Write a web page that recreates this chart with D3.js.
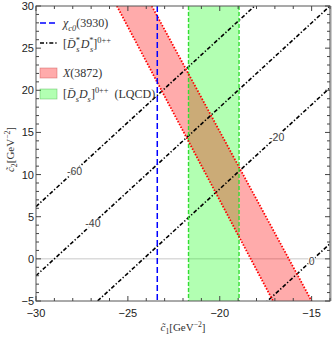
<!DOCTYPE html>
<html><head><meta charset="utf-8">
<script src="https://cdn.jsdelivr.net/npm/d3@7"></script>
<style>body{margin:0;background:#fff} svg{display:block}</style>
</head><body>
<script>
// ---- data ----
const xDomain = [-30, -14];
const yDomain = [-5, 30];
const xTicks = [-30, -25, -20, -15];
const yTicks = [-5, 0, 5, 10, 15, 20, 25, 30];
const chiC0Line = -23.4;                 // chi_c0(3930) vertical line, c1
const lqcdBand = [-21.7, -18.95];        // [DsDs] LQCD band, c1 range
const x3872TopC1 = [-25.6, -23.7];       // X(3872) band edges at c2 = 30
const x3872BottomC1 = [-17.1, -15.0];    // X(3872) band edges at c2 = -5
const contourLevels = [-60, -40, -20, 0];
const contourSlope = 2;
const contourIntercepts = [66.2, 58.0, 48.3, 29.8];
const contourLabelC1 = [-27.9, -26.9, -16.9, -15.0];

// ---- layout ----
const W = 332, H = 338;
const L = 36, R = 330, T = 6, B = 301;
const svg = d3.select("body").append("svg").attr("width", W).attr("height", H);
const x = d3.scaleLinear().domain(xDomain).range([L, R]);
const y = d3.scaleLinear().domain(yDomain).range([B, T]);

svg.append("defs").append("clipPath").attr("id", "clip")
  .append("rect").attr("x", L).attr("y", T).attr("width", R - L).attr("height", B - T);
const plot = svg.append("g").attr("clip-path", "url(#clip)");

// zero line
plot.append("line").attr("x1", x(xDomain[0])).attr("x2", x(xDomain[1]))
  .attr("y1", y(0)).attr("y2", y(0)).attr("stroke", "#c8c8c8").attr("stroke-width", 1);

// green band
plot.append("rect").attr("x", x(lqcdBand[0])).attr("width", x(lqcdBand[1]) - x(lqcdBand[0]))
  .attr("y", T).attr("height", B - T).attr("fill", "rgb(0,255,0)").attr("fill-opacity", 0.3);

// red band
const redPoly = [[x3872TopC1[0], yDomain[1]], [x3872TopC1[1], yDomain[1]],
                 [x3872BottomC1[1], yDomain[0]], [x3872BottomC1[0], yDomain[0]]];
plot.append("path").attr("d", d3.line().x(d => x(d[0])).y(d => y(d[1]))(redPoly) + "Z")
  .attr("fill", "rgb(255,0,0)").attr("fill-opacity", 0.33);

// contour lines
contourLevels.forEach((lev, i) => {
  const b = contourIntercepts[i];
  plot.append("line")
    .attr("x1", x(xDomain[0])).attr("y1", y(contourSlope * xDomain[0] + b))
    .attr("x2", x(xDomain[1])).attr("y2", y(contourSlope * xDomain[1] + b))
    .attr("stroke", "#000").attr("stroke-width", 1.6)
    .attr("stroke-dasharray", "4,2,1.3,2");
});

// band boundaries
lqcdBand.forEach(c => {
  plot.append("line").attr("x1", x(c)).attr("x2", x(c)).attr("y1", T).attr("y2", B)
    .attr("stroke", "#33dd33").attr("stroke-width", 1.4).attr("stroke-dasharray", "4,2");
});
[0, 1].forEach(k => {
  plot.append("line").attr("x1", x(x3872TopC1[k])).attr("y1", y(yDomain[1]))
    .attr("x2", x(x3872BottomC1[k])).attr("y2", y(yDomain[0]))
    .attr("stroke", "#ff0000").attr("stroke-width", 1.8).attr("stroke-dasharray", "1.5,1.6");
});

// chi_c0 line
plot.append("line").attr("x1", x(chiC0Line)).attr("x2", x(chiC0Line)).attr("y1", T).attr("y2", B)
  .attr("stroke", "#0000ff").attr("stroke-width", 1.5).attr("stroke-dasharray", "6,3");

// contour labels
contourLevels.forEach((lev, i) => {
  const cx = contourLabelC1[i];
  const cy = contourSlope * cx + contourIntercepts[i];
  const g = plot.append("g");
  const t = g.append("text").attr("x", x(cx)).attr("y", y(cy) + 4)
    .attr("text-anchor", "middle").attr("font-family", "Liberation Sans, Arial, sans-serif")
    .attr("font-size", 10.5).attr("fill", "#444").text(lev === 0 ? "0" : "-" + Math.abs(lev));
  const bb = t.node().getBBox();
  g.insert("rect", "text").attr("x", bb.x - 0.5).attr("y", bb.y + 1).attr("width", bb.width + 1)
    .attr("height", bb.height - 2).attr("fill", "#fff").attr("fill-opacity", 0.85);
});

// frame
const frame = svg.append("g");
frame.append("rect").attr("x", L).attr("y", T).attr("width", R - L).attr("height", B - T)
  .attr("fill", "none").attr("stroke", "#555").attr("stroke-width", 1);
frame.append("line").attr("x1", R + 0.5).attr("x2", R + 0.5).attr("y1", T).attr("y2", B)
  .attr("stroke", "#999").attr("stroke-width", 2);

// ticks
const minorX = d3.range(xDomain[0], xDomain[1] + 0.001, 1);
const minorY = d3.range(yDomain[0], yDomain[1] + 0.001, 1);
minorX.forEach(v => {
  const len = xTicks.includes(v) ? 5 : 3;
  frame.append("line").attr("x1", x(v)).attr("x2", x(v)).attr("y1", B).attr("y2", B - len).attr("stroke", "#444");
  frame.append("line").attr("x1", x(v)).attr("x2", x(v)).attr("y1", T).attr("y2", T + len).attr("stroke", "#444");
});
minorY.forEach(v => {
  const len = yTicks.includes(v) ? 5 : 3;
  frame.append("line").attr("x1", L).attr("x2", L + len).attr("y1", y(v)).attr("y2", y(v)).attr("stroke", "#444");
  frame.append("line").attr("x1", R).attr("x2", R - len).attr("y1", y(v)).attr("y2", y(v)).attr("stroke", "#444");
});
const tickFont = "Liberation Sans, Arial, sans-serif";
xTicks.forEach(v => {
  svg.append("text").attr("x", x(v)).attr("y", 317).attr("text-anchor", "middle")
    .attr("font-family", tickFont).attr("font-size", 11).attr("fill", "#222")
    .text("\u2212" + Math.abs(v));
});
yTicks.forEach(v => {
  svg.append("text").attr("x", 34).attr("y", y(v) + 4).attr("text-anchor", "end")
    .attr("font-family", tickFont).attr("font-size", 11).attr("fill", "#222")
    .text(v < 0 ? "\u2212" + Math.abs(v) : String(v));
});

// rich text helper
const serif = "Liberation Serif, Times New Roman, serif";
function rich(sel, parts, fs) {
  let cur = 0;
  parts.forEach(p => {
    const shift = p.sub ? fs * 0.3 : p.sup ? -fs * 0.4 : 0;
    const ts = sel.append("tspan").text(p.t).attr("dy", shift - cur)
      .attr("font-size", (p.sub || p.sup) ? fs * 0.7 : fs)
      .attr("font-style", p.i ? "italic" : "normal");
    if (p.dx) ts.attr("dx", p.dx);
    cur = shift;
  });
  if (cur !== 0) sel.append("tspan").text("").attr("dy", -cur);
}

// axis titles
const xt = svg.append("text").attr("x", (L + R) / 2).attr("y", 331).attr("text-anchor", "middle")
  .attr("font-family", serif).attr("font-size", 11).attr("fill", "#333");
rich(xt, [{t: "c\u0303", i: true}, {t: "1", sub: true}, {t: "[GeV"}, {t: "\u22122", sup: true}, {t: "]"}], 11);
const yt = svg.append("text").attr("transform", `translate(14,${(T + B) / 2 - 4}) rotate(-90)`)
  .attr("text-anchor", "middle").attr("font-family", serif).attr("font-size", 11).attr("fill", "#333");
rich(yt, [{t: "c\u0303", i: true}, {t: "2", sub: true}, {t: "[GeV"}, {t: "\u22122", sup: true}, {t: "]"}], 11);

// legend
const lg = svg.append("g");
const lx0 = 40, lx1 = 57, tx = 63, fs = 12;
lg.append("line").attr("x1", lx0).attr("x2", lx1).attr("y1", 23).attr("y2", 23)
  .attr("stroke", "#0000ff").attr("stroke-width", 1.5).attr("stroke-dasharray", "6,3");
lg.append("line").attr("x1", lx0).attr("x2", lx1).attr("y1", 43).attr("y2", 43)
  .attr("stroke", "#000").attr("stroke-width", 1.6).attr("stroke-dasharray", "4,2,1.3,2");
lg.append("rect").attr("x", lx0).attr("y", 68).attr("width", lx1 - lx0).attr("height", 10)
  .attr("fill", "rgb(255,0,0)").attr("fill-opacity", 0.33).attr("stroke", "rgba(200,80,80,0.6)").attr("stroke-width", 0.7);
lg.append("rect").attr("x", lx0).attr("y", 89).attr("width", lx1 - lx0).attr("height", 10)
  .attr("fill", "rgb(0,255,0)").attr("fill-opacity", 0.3).attr("stroke", "rgba(80,180,80,0.6)").attr("stroke-width", 0.7);

const t1 = lg.append("text").attr("x", tx).attr("y", 27).attr("font-family", serif).attr("fill", "#333");
rich(t1, [{t: "\u03c7", i: true}, {t: "c0", i: true, sub: true}, {t: "(3930)"}], fs);
const t2 = lg.append("text").attr("x", tx).attr("y", 48).attr("font-family", serif).attr("fill", "#333");
rich(t2, [{t: "["}, {t: "D\u0304", i: true}, {t: "*", sup: true}, {t: "s", i: true, sub: true, dx: -3.5},
          {t: "D", i: true, dx: 1}, {t: "*", sup: true}, {t: "s", i: true, sub: true, dx: -3.5}, {t: "]"}, {t: "0++", sup: true}], fs);
const t3 = lg.append("text").attr("x", tx).attr("y", 77).attr("font-family", serif).attr("fill", "#333");
rich(t3, [{t: "X", i: true}, {t: "(3872)"}], fs);
const t4 = lg.append("text").attr("x", tx).attr("y", 98).attr("font-family", serif).attr("fill", "#333");
rich(t4, [{t: "["}, {t: "D\u0304", i: true}, {t: "s", i: true, sub: true}, {t: "D", i: true}, {t: "s", i: true, sub: true},
          {t: "]"}, {t: "0++", sup: true}, {t: "\u2002(LQCD)"}], fs);
</script>
</body></html>
